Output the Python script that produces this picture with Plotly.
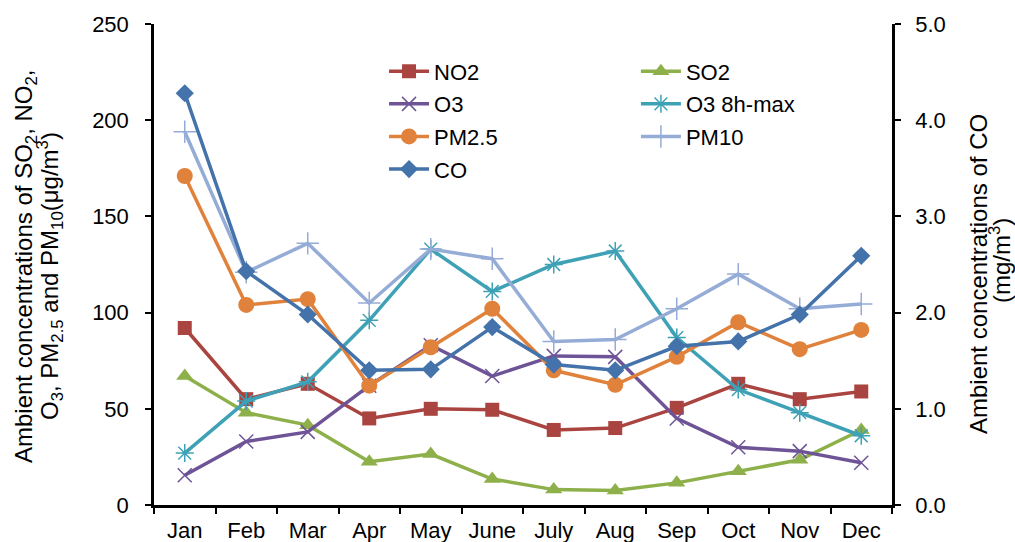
import plotly.graph_objects as go

months = ["Jan", "Feb", "Mar", "Apr", "May", "June", "July", "Aug", "Sep", "Oct", "Nov", "Dec"]
no2 = [92, 55, 63, 45, 50, 49.5, 39, 40, 50.5, 63, 55, 59]
so2 = [67, 48, 41.5, 22.5, 26.5, 13.5, 8, 7.5, 11.5, 17.5, 23.5, 39]
o3 = [15.5, 33, 38, 62, 83, 67, 77.5, 77, 45, 30, 28, 22]
o3_8h = [27, 54, 64, 96, 133, 111, 125, 132, 87, 60, 48, 36]
pm25 = [171, 104, 107, 62, 82, 102, 70, 62.5, 77, 95, 81, 91]
pm10 = [194, 121, 136, 105, 133, 128, 85, 86, 102, 120, 102, 104.5]
co = [4.28, 2.43, 1.98, 1.40, 1.41, 1.85, 1.46, 1.40, 1.65, 1.70, 1.98, 2.59]

left_ticks = [0, 50, 100, 150, 200, 250]
right_ticks = [0, 1, 2, 3, 4, 5]

left_title = ["Ambient concentrations of SO<sub>2</sub>, NO<sub>2</sub>,",
              "O<sub>3</sub>, PM<sub>2.5</sub> and PM<sub>10</sub>(μg/m<sup>3</sup>)"]
right_title = ["Ambient concentrations of CO", "(mg/m<sup>3</sup>)"]

FONT = "Liberation Sans, Arial, sans-serif"
FS = 22
TFS = 24

series = [
    ("NO2", no2, "#A94440", "square", 14, "y", "legend"),
    ("SO2", so2, "#8EB04A", "triangle-up", 15, "y", "legend2"),
    ("O3", o3, "#6E5497", "x-thin", 14, "y", "legend"),
    ("O3 8h-max", o3_8h, "#3FA1B6", "asterisk", 15, "y", "legend2"),
    ("PM2.5", pm25, "#E0823B", "circle", 16, "y", "legend"),
    ("PM10", pm10, "#95ACD6", "cross-thin", 16, "y", "legend2"),
    ("CO", co, "#4472AA", "diamond", 14, "y2", "legend"),
]

fig = go.Figure()
for name, vals, color, sym, size, ax, leg in series:
    thin = sym in ("x-thin", "asterisk", "cross-thin")
    fig.add_trace(go.Scatter(
        x=months, y=vals, name=name, yaxis=ax, mode="lines+markers",
        legend=leg, legendgroup=name,
        line=dict(color=color, width=3.5),
        marker=dict(symbol=sym, size=size, color=color,
                    line=dict(color=color, width=1.5 if thin else 0)),
    ))

legend_common = dict(
    orientation="v", yanchor="top", xanchor="left",
    font=dict(size=FS), bgcolor="rgba(0,0,0,0)",
    traceorder="grouped", tracegroupgap=1, itemwidth=40,
)

axis_common = dict(
    showline=True, linecolor="black", linewidth=2.5,
    ticks="outside", ticklen=6, tickwidth=2, tickcolor="black",
    showgrid=False, zeroline=False, tickfont=dict(size=FS), automargin=False,
)

annotations = []
for text, px, py in [(left_title[0], 25, 266), (left_title[1], 50, 276),
                     (right_title[0], 978, 274), (right_title[1], 1000, 260)]:
    annotations.append(dict(
        text=text, textangle=-90, xref="paper", yref="paper",
        x=(px - 154) / 738, y=(505 - py) / 481,
        xanchor="center", yanchor="middle", showarrow=False,
        font=dict(size=TFS, family=FONT, color="black"),
    ))

fig.update_layout(
    width=1015, height=542,
    margin=dict(l=154, r=123, t=24, b=37, autoexpand=False),
    paper_bgcolor="white", plot_bgcolor="white",
    font=dict(family=FONT, size=FS, color="black"),
    showlegend=True,
    legend=dict(x=0.3117, y=0.945, **legend_common),
    legend2=dict(x=0.653, y=0.945, **legend_common),
    xaxis=dict(type="category", range=[-0.5, 11.5], tickson="boundaries",
               ticklabelstandoff=4, **axis_common),
    yaxis=dict(range=[0, 250], tickvals=left_ticks, ticklabelstandoff=12, **axis_common),
    yaxis2=dict(range=[0, 5], tickvals=right_ticks, tickformat=".1f",
                overlaying="y", side="right", ticklabelstandoff=10, **axis_common),
    annotations=annotations,
)

fig.write_html("out.html")
